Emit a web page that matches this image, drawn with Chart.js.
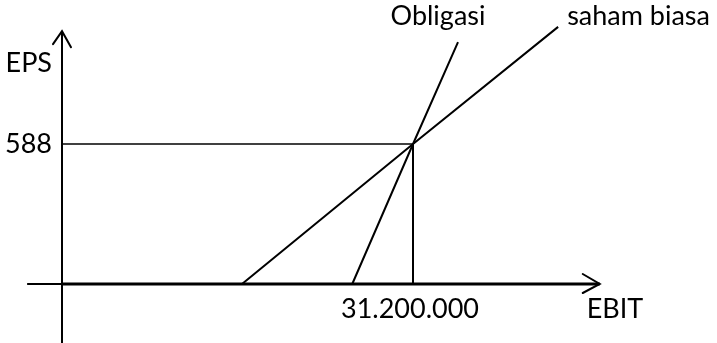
<!DOCTYPE html>
<html>
<head>
<meta charset="utf-8">
<script src="https://cdn.jsdelivr.net/npm/chart.js@4.4.0/dist/chart.umd.min.js"></script>
<style>
  body { margin: 0; background: #fff; }
  #wrap { width: 717px; height: 343px; position: relative; }
</style>
</head>
<body>
<div id="wrap"><canvas id="grafik"></canvas></div>
<script>
// Data titik indiferen EBIT - EPS
const ebitIndiferen = 31200000;
const epsIndiferen = 588;

// garis obligasi dan saham biasa (EBIT, EPS)
const ebitObligasi = [25800000, 31200000, 35200000];
const epsObligasi = [0, 588, 1016];
const ebitSaham = [16000000, 31200000, 44100000];
const epsSaham = [0, 588, 1080];

// ujung sumbu
const sumbuXEbit = [-3100000, 47800000];
const sumbuYEps = [-260, 1062];

// label
const labelSumbuX = "EBIT";
const labelSumbuY = "EPS";
const labelTickX = "31.200.000";
const labelTickY = "588";
const namaSeri = ["Obligasi", "saham biasa"];

const FONT = "27px Lato";

function toPoints(xs, ys) {
  return xs.map((x, i) => ({ x: x, y: ys[i] }));
}

function lineSet(data, width) {
  return {
    data: data,
    showLine: true,
    borderColor: "#000",
    backgroundColor: "#000",
    borderWidth: width,
    pointRadius: 0,
    tension: 0,
  };
}

// panah dan teks digambar di atas garis
const plugin = {
  id: "panahTeks",
  afterDatasetsDraw(chart) {
    const ctx = chart.ctx;
    const sx = chart.scales.x;
    const sy = chart.scales.y;
    const x0 = sx.getPixelForValue(0);
    const y0 = sy.getPixelForValue(0);

    ctx.save();
    ctx.strokeStyle = "#000";
    ctx.lineWidth = 2;
    ctx.lineCap = "round";

    // panah sumbu Y
    let tx = x0, ty = sy.getPixelForValue(sumbuYEps[1]);
    ctx.beginPath();
    ctx.moveTo(tx - 9, ty + 13);
    ctx.lineTo(tx, ty);
    ctx.lineTo(tx + 9, ty + 16);
    ctx.stroke();

    // panah sumbu X
    tx = sx.getPixelForValue(sumbuXEbit[1]);
    ty = y0;
    ctx.beginPath();
    ctx.moveTo(tx - 17, ty - 10);
    ctx.lineTo(tx, ty);
    ctx.lineTo(tx - 17, ty + 9);
    ctx.stroke();

    ctx.fillStyle = "#000";
    ctx.font = FONT;
    ctx.textBaseline = "alphabetic";

    ctx.textAlign = "right";
    ctx.fillText(labelSumbuY, x0 - 10, sy.getPixelForValue(sumbuYEps[1]) + 41);
    ctx.fillText(labelTickY, x0 - 10, sy.getPixelForValue(epsIndiferen) + 9);

    ctx.textAlign = "center";
    ctx.fillText(labelTickX, sx.getPixelForValue(ebitIndiferen) - 3, y0 + 34);
    ctx.textAlign = "left";
    ctx.fillText(labelSumbuX, sx.getPixelForValue(sumbuXEbit[1]) - 13, y0 + 34);

    // nama garis di ujung atas
    let n = ebitObligasi.length - 1;
    ctx.textAlign = "center";
    ctx.fillText(namaSeri[0], sx.getPixelForValue(ebitObligasi[n]) - 20,
                 sy.getPixelForValue(epsObligasi[n]) - 17);
    n = ebitSaham.length - 1;
    ctx.textAlign = "left";
    ctx.fillText(namaSeri[1], sx.getPixelForValue(ebitSaham[n]) + 9,
                 sy.getPixelForValue(epsSaham[n]) - 2);
    ctx.restore();
  }
};

const pxPerJuta = 351 / 31.2;   // skala sumbu X
const epsPerPx = 588 / 140;     // skala sumbu Y

new Chart(document.getElementById("grafik"), {
  type: "scatter",
  data: {
    datasets: [
      lineSet([{ x: 0, y: epsIndiferen }, { x: ebitIndiferen, y: epsIndiferen }], 1.5),
      lineSet([{ x: ebitIndiferen, y: epsIndiferen }, { x: ebitIndiferen, y: 0 }], 2),
      lineSet(toPoints(ebitObligasi, epsObligasi), 2),
      lineSet(toPoints(ebitSaham, epsSaham), 2),
      lineSet([{ x: sumbuXEbit[0], y: 0 }, { x: 0, y: 0 }], 2),
      lineSet([{ x: 0, y: 0 }, { x: sumbuXEbit[1], y: 0 }], 3),
      lineSet([{ x: 0, y: sumbuYEps[0] }, { x: 0, y: sumbuYEps[1] }], 2),
    ],
  },
  options: {
    responsive: true,
    maintainAspectRatio: false,
    animation: false,
    layout: { padding: 0 },
    plugins: { legend: { display: false }, tooltip: { enabled: false } },
    scales: {
      x: {
        type: "linear",
        display: false,
        min: -62 / pxPerJuta * 1e6,
        max: (717 - 62) / pxPerJuta * 1e6,
      },
      y: {
        type: "linear",
        display: false,
        min: -(343 - 284) * epsPerPx,
        max: 284 * epsPerPx,
      },
    },
  },
  plugins: [plugin],
});
</script>
</body>
</html>
